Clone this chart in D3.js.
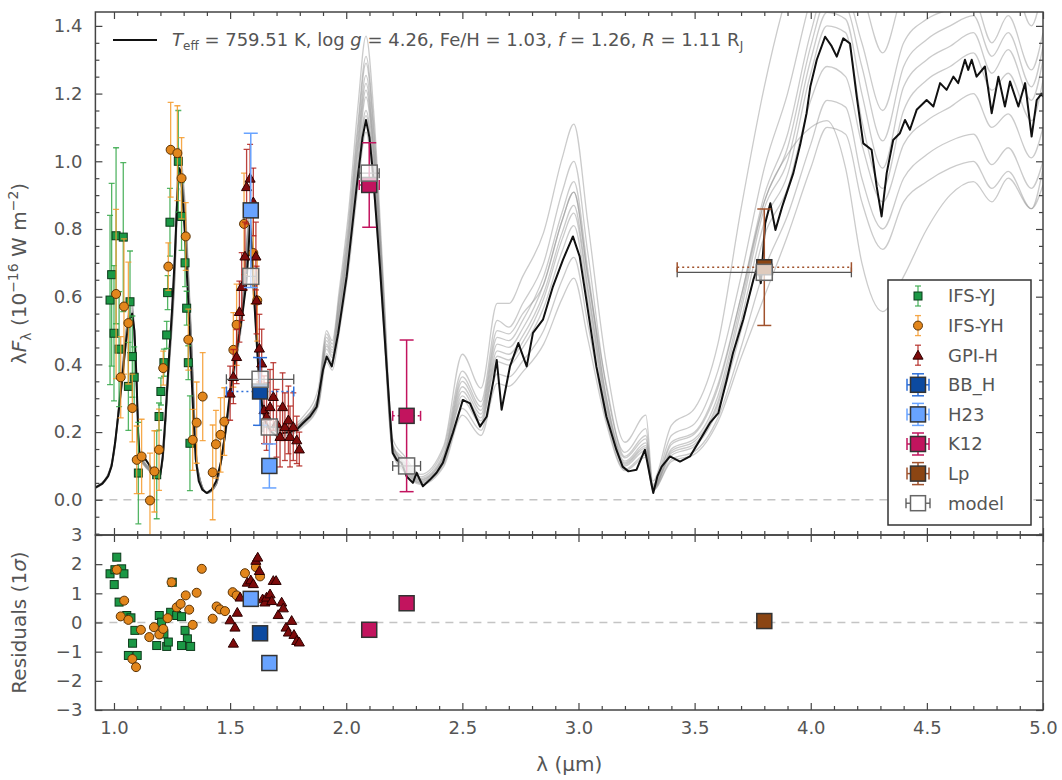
<!DOCTYPE html>
<html>
<head>
<meta charset="utf-8">
<script src="https://cdn.jsdelivr.net/npm/d3@7"></script>
<style>
  body { margin: 0; background: #fff; }
  text { font-family: "DejaVu Sans", Lato, sans-serif; fill: #555; }
</style>
</head>
<body>
<svg width="1062" height="780"></svg>
<script>
// best fit model spectrum (wavelength in micron, lambda*F_lambda in 1e-16 W m-2)
var fitWave = [0.92,0.95,0.975,0.99,1.005,1.02,1.033,1.05,1.065,1.078,
  1.088,1.097,1.104,1.11,1.12,1.135,1.15,1.165,1.18,1.192,
  1.2,1.21,1.222,1.235,1.25,1.262,1.272,1.28,1.288,1.296,
  1.305,1.318,1.33,1.342,1.352,1.365,1.38,1.40,1.42,1.44,
  1.46,1.478,1.495,1.51,1.525,1.54,1.555,1.57,1.578,1.585,
  1.593,1.603,1.615,1.625,1.64,1.655,1.678,1.70,1.728,1.757,
  1.786,1.814,1.844,1.873,1.90,1.916,1.938,1.965,2.002,2.045,
  2.07,2.085,2.10,2.115,2.145,2.174,2.20,2.217,2.238,2.26,
  2.287,2.303,2.33,2.36,2.389,2.416,2.459,2.502,2.533,2.576,
  2.605,2.633,2.648,2.669,2.705,2.741,2.777,2.804,2.847,2.89,
  2.933,2.976,3.005,3.034,3.077,3.12,3.163,3.19,3.215,3.25,
  3.286,3.305,3.322,3.34,3.358,3.394,3.437,3.48,3.523,3.566,
  3.602,3.638,3.665,3.709,3.753,3.772,3.785,3.804,3.826,3.848,
  3.877,3.925,3.955,3.982,3.998,4.026,4.062,4.09,4.112,4.14,
  4.169,4.198,4.226,4.262,4.284,4.305,4.327,4.355,4.384,4.406,
  4.427,4.456,4.499,4.528,4.557,4.585,4.614,4.635,4.664,4.678,
  4.693,4.714,4.75,4.779,4.808,4.836,4.858,4.894,4.923,4.951,
  4.973,4.994,5.0];
var fitFlux = [0.036,0.048,0.07,0.10,0.17,0.26,0.34,0.46,0.53,0.55,
  0.50,0.36,0.20,0.13,0.115,0.12,0.105,0.085,0.068,0.062,
  0.075,0.13,0.25,0.40,0.56,0.72,0.88,0.98,0.97,0.89,
  0.79,0.61,0.43,0.24,0.12,0.055,0.03,0.02,0.03,0.055,
  0.11,0.19,0.29,0.36,0.43,0.49,0.56,0.64,0.72,0.81,
  0.74,0.60,0.46,0.35,0.265,0.227,0.20,0.19,0.197,0.20,
  0.207,0.227,0.246,0.275,0.384,0.423,0.394,0.49,0.66,0.925,
  1.07,1.122,1.07,0.965,0.689,0.394,0.138,0.118,0.109,0.069,
  0.05,0.08,0.04,0.059,0.08,0.109,0.197,0.295,0.285,0.216,
  0.246,0.35,0.413,0.266,0.394,0.463,0.394,0.493,0.532,0.63,
  0.709,0.778,0.719,0.59,0.394,0.246,0.148,0.098,0.084,0.089,
  0.148,0.08,0.02,0.07,0.098,0.128,0.113,0.128,0.177,0.227,
  0.256,0.354,0.433,0.532,0.65,0.69,0.64,0.817,0.876,0.797,
  0.866,0.965,1.05,1.142,1.22,1.30,1.368,1.34,1.309,1.363,
  1.348,1.191,1.053,1.034,0.925,0.837,0.965,1.063,1.083,1.122,
  1.093,1.152,1.181,1.162,1.231,1.211,1.25,1.231,1.30,1.27,
  1.30,1.25,1.28,1.142,1.25,1.162,1.236,1.162,1.231,1.073,
  1.181,1.20,1.19];

// other models of the posterior sample, on a coarser grid
var gridWave = [0.92,0.97,1.00,1.03,1.055,1.078,1.095,1.11,1.15,1.19,1.21,1.235,
  1.26,1.28,1.305,1.33,1.36,1.40,1.44,1.48,1.52,1.555,1.585,1.61,
  1.635,1.67,1.74,1.82,1.88,1.915,1.94,1.97,2.01,2.05,2.085,2.12,
  2.16,2.20,2.25,2.32,2.42,2.50,2.58,2.65,2.70,2.76,2.85,2.93,
  2.98,3.04,3.12,3.20,3.29,3.32,3.40,3.50,3.60,3.70,3.80,3.90,
  4.00,4.07,4.15,4.22,4.31,4.40,4.50,4.60,4.70,4.78,4.85,4.95,5.00];
var sampleFlux = [
  [0.039,0.070,0.150,0.350,0.520,0.590,0.410,0.140,0.096,0.070,0.130,0.410,
   0.700,1.040,0.890,0.540,0.096,0.021,0.048,0.210,0.430,0.610,0.860,0.580,
   0.310,0.225,0.214,0.250,0.330,0.500,0.470,0.620,0.850,1.160,1.370,1.130,
   0.650,0.180,0.130,0.075,0.160,0.430,0.330,0.580,0.580,0.660,0.790,1.010,
   1.110,0.820,0.400,0.170,0.250,0.055,0.220,0.270,0.460,0.860,1.220,1.500,
   1.700,1.850,1.850,1.700,1.450,1.700,1.750,1.800,1.820,1.660,1.780,1.580,1.720],
  [0.038,0.068,0.147,0.347,0.515,0.578,0.400,0.137,0.095,0.068,0.126,0.400,
   0.680,1.020,0.870,0.525,0.095,0.021,0.047,0.210,0.420,0.600,0.840,0.567,
   0.305,0.220,0.210,0.240,0.310,0.480,0.450,0.590,0.800,1.090,1.290,1.070,
   0.610,0.160,0.120,0.068,0.150,0.380,0.290,0.530,0.510,0.580,0.700,0.910,
   1.000,0.730,0.330,0.140,0.210,0.045,0.190,0.225,0.380,0.660,0.980,1.200,
   1.480,1.620,1.600,1.500,1.320,1.500,1.550,1.600,1.620,1.480,1.580,1.400,1.520],
  [0.037,0.067,0.144,0.340,0.505,0.567,0.390,0.134,0.093,0.067,0.124,0.390,
   0.670,1.000,0.855,0.515,0.093,0.021,0.046,0.206,0.410,0.587,0.824,0.556,
   0.300,0.216,0.206,0.237,0.300,0.460,0.435,0.560,0.770,1.045,1.230,1.020,
   0.580,0.154,0.108,0.060,0.130,0.350,0.264,0.480,0.470,0.530,0.660,0.850,
   0.940,0.680,0.300,0.124,0.180,0.039,0.163,0.195,0.330,0.600,0.900,1.080,
   1.380,1.520,1.500,1.350,1.150,1.350,1.420,1.450,1.480,1.350,1.430,1.270,1.380],
  [0.036,0.066,0.141,0.333,0.495,0.556,0.384,0.131,0.091,0.066,0.121,0.384,
   0.656,0.980,0.838,0.505,0.091,0.020,0.045,0.202,0.404,0.576,0.808,0.545,
   0.293,0.212,0.202,0.232,0.295,0.445,0.420,0.540,0.740,1.000,1.190,0.985,
   0.560,0.148,0.099,0.055,0.121,0.320,0.242,0.440,0.430,0.484,0.610,0.790,
   0.870,0.630,0.285,0.109,0.160,0.035,0.144,0.173,0.290,0.560,0.860,1.000,
   1.300,1.440,1.420,1.200,0.980,1.220,1.300,1.340,1.380,1.260,1.330,1.180,1.300],
  [0.036,0.064,0.139,0.327,0.485,0.545,0.376,0.129,0.089,0.064,0.119,0.376,
   0.644,0.960,0.820,0.495,0.089,0.020,0.045,0.198,0.396,0.564,0.792,0.535,
   0.287,0.208,0.198,0.228,0.288,0.432,0.407,0.525,0.720,0.980,1.150,0.960,
   0.545,0.144,0.090,0.050,0.110,0.296,0.224,0.408,0.398,0.449,0.567,0.735,
   0.810,0.590,0.260,0.100,0.147,0.032,0.131,0.158,0.268,0.500,0.780,0.920,
   1.180,1.280,1.250,1.050,0.880,1.050,1.120,1.160,1.200,1.100,1.140,1.010,1.100],
  [0.035,0.063,0.136,0.320,0.475,0.534,0.369,0.126,0.087,0.063,0.116,0.369,
   0.630,0.940,0.805,0.485,0.087,0.019,0.044,0.194,0.388,0.553,0.776,0.524,
   0.281,0.204,0.194,0.223,0.281,0.425,0.400,0.515,0.710,0.960,1.135,0.940,
   0.535,0.140,0.086,0.048,0.105,0.270,0.205,0.372,0.363,0.410,0.500,0.650,
   0.716,0.520,0.238,0.090,0.133,0.029,0.119,0.143,0.242,0.450,0.680,0.840,
   1.050,1.180,1.160,0.950,0.800,0.950,1.020,1.060,1.080,0.990,1.040,0.920,1.000],
  [0.034,0.062,0.133,0.314,0.465,0.523,0.361,0.124,0.086,0.062,0.114,0.361,
   0.618,0.920,0.790,0.475,0.086,0.019,0.043,0.190,0.380,0.542,0.760,0.513,
   0.276,0.200,0.190,0.219,0.276,0.407,0.383,0.495,0.680,0.920,1.086,0.900,
   0.514,0.136,0.081,0.045,0.099,0.250,0.190,0.344,0.335,0.378,0.460,0.595,
   0.655,0.476,0.225,0.086,0.126,0.027,0.113,0.135,0.230,0.420,0.600,0.780,
   0.980,1.100,1.080,0.880,0.740,0.880,0.940,0.980,1.000,0.920,0.970,0.860,0.930],
  [0.037,0.068,0.146,0.343,0.510,0.572,0.395,0.135,0.094,0.068,0.125,0.395,
   0.676,1.010,0.863,0.520,0.094,0.021,0.047,0.208,0.416,0.593,0.832,0.562,
   0.302,0.218,0.208,0.239,0.305,0.470,0.442,0.571,0.784,1.064,1.254,1.040,
   0.594,0.157,0.113,0.063,0.138,0.363,0.275,0.500,0.490,0.550,0.637,0.826,
   0.909,0.660,0.340,0.128,0.190,0.040,0.170,0.200,0.340,0.600,0.880,1.020,
   1.100,1.120,0.980,0.700,0.556,0.660,0.800,0.900,0.940,0.880,0.950,0.860,0.980],
  [0.037,0.066,0.143,0.337,0.500,0.561,0.388,0.133,0.092,0.066,0.122,0.388,
   0.663,0.990,0.847,0.510,0.092,0.020,0.046,0.204,0.408,0.581,0.816,0.551,
   0.296,0.214,0.204,0.235,0.305,0.490,0.460,0.600,0.820,1.110,1.310,1.090,
   0.620,0.165,0.104,0.058,0.127,0.334,0.253,0.460,0.450,0.506,0.637,0.826,
   0.909,0.660,0.300,0.114,0.168,0.036,0.150,0.180,0.306,0.580,0.880,1.040,
   1.340,1.480,1.460,1.280,1.060,1.280,1.360,1.400,1.430,1.310,1.380,1.220,1.340],
  [0.035,0.064,0.138,0.325,0.483,0.542,0.374,0.128,0.089,0.064,0.118,0.374,
   0.640,0.955,0.818,0.493,0.089,0.020,0.044,0.197,0.394,0.561,0.788,0.532,
   0.286,0.207,0.197,0.227,0.286,0.454,0.427,0.551,0.756,1.026,1.210,1.004,
   0.572,0.151,0.095,0.053,0.116,0.307,0.233,0.424,0.413,0.466,0.594,0.770,
   0.847,0.616,0.275,0.105,0.154,0.033,0.138,0.165,0.281,0.530,0.820,0.960,
   1.260,1.400,1.380,1.120,0.920,1.150,1.240,1.280,1.320,1.210,1.260,1.120,1.240]
];

// spectra: [wavelength, flux, error]
var ifsYJ = [[0.983,0.59,0.25],[0.99,0.665,0.27],[1.0,0.492,0.2],[1.009,0.78,0.26],[1.022,0.445,0.17],
  [1.04,0.776,0.22],[1.062,0.335,0.13],[1.069,0.585,0.15],[1.079,0.423,0.12],[1.087,0.362,0.09],
  [1.105,0.079,0.15],[1.184,0.074,0.13],[1.194,0.246,0.04],[1.202,0.32,0.04],[1.215,0.405,0.04],
  [1.227,0.487,0.04],[1.231,0.612,0.05],[1.241,0.82,0.10],[1.277,1.0,0.15],[1.291,0.837,0.10],
  [1.306,0.70,0.07],[1.313,0.566,0.05],[1.32,0.405,0.05],[1.327,0.167,0.14]];
var ifsYH = [[1.009,0.608,0.25],[1.029,0.362,0.12],[1.043,0.571,0.2],[1.062,0.522,0.18],[1.079,0.271,0.1],
  [1.098,0.118,0.1],[1.119,0.128,0.11],[1.155,-0.002,0.14],[1.174,0.084,0.12],[1.194,0.148,0.12],
  [1.212,0.389,0.05],[1.234,0.689,0.07],[1.244,1.034,0.14],[1.273,1.024,0.14],[1.291,0.95,0.12],
  [1.309,0.778,0.1],[1.32,0.473,0.09],[1.339,0.177,0.09],[1.356,0.228,0.12],[1.382,0.305,0.13],
  [1.425,0.081,0.14],[1.439,0.164,0.1],[1.459,0.192,0.11],[1.475,0.231,0.1],[1.514,0.443,0.11],
  [1.528,0.517,0.12],[1.56,0.815,0.15],[1.60,0.729,0.15],[1.617,0.589,0.12]];
var gpiH = [[1.500,0.315,0.08],[1.514,0.364,0.08],[1.528,0.423,0.08],[1.540,0.556,0.09],[1.550,0.630,0.1],
  [1.564,0.720,0.1],[1.571,0.925,0.11],[1.586,0.950,0.1],[1.600,0.880,0.1],[1.611,0.720,0.1],
  [1.614,0.590,0.1],[1.626,0.448,0.1],[1.636,0.404,0.1],[1.646,0.266,0.1],[1.657,0.246,0.1],
  [1.672,0.275,0.11],[1.686,0.305,0.1],[1.700,0.226,0.1],[1.715,0.187,0.09],[1.726,0.275,0.1],
  [1.736,0.216,0.1],[1.751,0.236,0.1],[1.758,0.187,0.09],[1.772,0.216,0.1],[1.787,0.177,0.07],
  [1.798,0.150,0.05]];

// residuals (data - model) / sigma: [wavelength, residual]
var resYJ = [[0.983,1.67],[1.004,1.81],[1.012,2.24],[1.033,1.84],[1.043,1.67],[1.001,1.30],[1.022,0.70],
  [1.055,0.24],[1.073,0.16],[1.09,-0.27],[1.08,-0.71],[1.062,-1.13],[1.10,-1.13],[1.184,-0.79],
  [1.195,0.24],[1.205,0.01],[1.215,-0.39],[1.227,-0.82],[1.234,-0.67],[1.244,0.35],[1.251,1.38],
  [1.27,0.24],[1.291,0.2],[1.306,-0.27],[1.316,-0.56],[1.291,-0.79],[1.33,-0.82]];
var resYH = [[1.012,1.81],[1.044,0.75],[1.029,0.21],[1.062,0.09],[1.079,-1.25],[1.095,-1.53],[1.116,-0.25],
  [1.152,-0.5],[1.172,-0.16],[1.195,-0.41],[1.212,-0.22],[1.231,0.15],[1.248,1.38],[1.27,0.52],
  [1.287,0.64],[1.309,0.93],[1.324,0.44],[1.339,-0.08],[1.356,1.02],[1.378,1.84],[1.425,0.13],
  [1.442,0.55],[1.456,0.45],[1.478,0.39],[1.511,1.04],[1.528,0.93],[1.564,1.69],[1.611,1.90],[1.629,1.58]];
var resGPI = [[1.5,0.09],[1.514,-0.71],[1.521,-0.16],[1.531,0.35],[1.543,0.87],[1.574,1.38],[1.589,1.46],
  [1.60,1.33],[1.611,2.13],[1.619,2.24],[1.626,1.78],[1.64,0.81],[1.65,0.70],[1.657,0.87],[1.672,0.98],
  [1.679,0.75],[1.686,1.44],[1.698,1.44],[1.707,0.27],[1.722,0.70],[1.729,0.5],[1.741,-0.16],
  [1.751,-0.33],[1.765,0.07],[1.775,-0.41],[1.787,-0.62],[1.798,-0.67]];

// photometry
var photBand  = ['BB_H', 'H23', 'H23', 'K12', 'K12', 'Lp'];
var photWave  = [1.629, 1.589, 1.669, 2.099, 2.26, 3.80];
var photHalf  = [0.145, 0.025, 0.027, 0.043, 0.06, 0.375];
var photFlux  = [0.32, 0.855, 0.10, 0.93, 0.248, 0.687];
var photErr   = [0.10, 0.228, 0.065, 0.125, 0.224, 0.172];
var photModel = [0.356, 0.66, 0.215, 0.965, 0.10, 0.672];
var photRes   = [-0.37, 0.81, -1.39, -0.25, 0.66, 0.05];

var legendLabels = ['IFS-YJ', 'IFS-YH', 'GPI-H', 'BB_H', 'H23', 'K12', 'Lp', 'model'];

var specStyle = {
  'IFS-YJ': {fill: '#1b9845', stroke: '#0c3a1a', bar: '#36a84a', shape: 'square'},
  'IFS-YH': {fill: '#e2861c', stroke: '#5c3406', bar: '#f49a2c', shape: 'circle'},
  'GPI-H':  {fill: '#7e0b0b', stroke: '#2c0000', bar: '#b0221c', shape: 'triangle'}
};
var bandFill = {BB_H: '#0c4aa0', H23: '#68a3ff', K12: '#c2145e', Lp: '#8b4513'};
var bandBar = {BB_H: '#2d6fd9', H23: '#68a3ff', K12: '#c2145e', Lp: '#a0522d'};

var svg = d3.select('svg');
var pLeft = 95.4, pRight = 1043, pTop = 12, pMid = 535, pBottom = 710;

var x = d3.scaleLinear().domain([0.92, 5.0]).range([pLeft, pRight]);
var y = d3.scaleLinear().domain([-0.104, 1.441]).range([pMid, pTop]);
var yr = d3.scaleLinear().domain([-3, 3]).range([pBottom, pMid]);

var defs = svg.append('defs');
defs.append('clipPath').attr('id', 'clipTop').append('rect')
  .attr('x', pLeft).attr('y', pTop).attr('width', pRight - pLeft).attr('height', pMid - pTop);
defs.append('clipPath').attr('id', 'clipBot').append('rect')
  .attr('x', pLeft).attr('y', pMid).attr('width', pRight - pLeft).attr('height', pBottom - pMid);

var upper = svg.append('g').attr('clip-path', 'url(#clipTop)');
var lower = svg.append('g').attr('clip-path', 'url(#clipBot)');

// zero lines
upper.append('line').attr('x1', pLeft).attr('x2', pRight).attr('y1', y(0)).attr('y2', y(0))
  .attr('stroke', '#c4c4c4').attr('stroke-width', 1.5).attr('stroke-dasharray', '8,6');
lower.append('line').attr('x1', pLeft).attr('x2', pRight).attr('y1', yr(0)).attr('y2', yr(0))
  .attr('stroke', '#c4c4c4').attr('stroke-width', 1.5).attr('stroke-dasharray', '8,6');

// sample models
var grayLine = d3.line().x(d => x(d[0])).y(d => y(d[1])).curve(d3.curveMonotoneX);
sampleFlux.forEach(function(fl) {
  upper.append('path')
    .attr('d', grayLine(d3.zip(gridWave, fl)))
    .attr('fill', 'none').attr('stroke', '#8c8c8c').attr('stroke-opacity', 0.45)
    .attr('stroke-width', 1.3);
});

// best fit
var fitLine = d3.line().x(d => x(d[0])).y(d => y(d[1]));
upper.append('path')
  .attr('d', fitLine(d3.zip(fitWave, fitFlux)))
  .attr('fill', 'none').attr('stroke', '#111').attr('stroke-width', 2)
  .attr('stroke-linejoin', 'round');

function marker(g, shape, cx, cy, st, size) {
  if (shape === 'circle') {
    g.append('circle').attr('cx', cx).attr('cy', cy).attr('r', size || 4.5)
      .attr('fill', st.fill).attr('stroke', st.stroke).attr('stroke-width', 1);
  } else if (shape === 'triangle') {
    g.append('path').attr('d', d3.symbol(d3.symbolTriangle, (size || 9) * (size || 9) * 0.55)())
      .attr('transform', 'translate(' + cx + ',' + (cy + 1) + ')')
      .attr('fill', st.fill).attr('stroke', st.stroke).attr('stroke-width', 1);
  } else {
    var s = size || 8;
    g.append('rect').attr('x', cx - s / 2).attr('y', cy - s / 2).attr('width', s).attr('height', s)
      .attr('fill', st.fill).attr('stroke', st.stroke).attr('stroke-width', st.sw || 1)
      .attr('fill-opacity', st.fo == null ? 1 : st.fo);
  }
}

function vbar(g, cx, y0, y1, color, cap, w, op) {
  g.append('line').attr('x1', cx).attr('x2', cx).attr('y1', y0).attr('y2', y1)
    .attr('stroke', color).attr('stroke-width', w).attr('stroke-opacity', op);
  [y0, y1].forEach(function(v) {
    g.append('line').attr('x1', cx - cap).attr('x2', cx + cap).attr('y1', v).attr('y2', v)
      .attr('stroke', color).attr('stroke-width', w).attr('stroke-opacity', op);
  });
}

function hbar(g, x0, x1, cy, color, cap, w, dash) {
  g.append('line').attr('x1', x0).attr('x2', x1).attr('y1', cy).attr('y2', cy)
    .attr('stroke', color).attr('stroke-width', w).attr('stroke-dasharray', dash || null);
  [x0, x1].forEach(function(v) {
    g.append('line').attr('x1', v).attr('x2', v).attr('y1', cy - cap).attr('y2', cy + cap)
      .attr('stroke', color).attr('stroke-width', w);
  });
}

// spectra with error bars
[['IFS-YJ', ifsYJ], ['IFS-YH', ifsYH], ['GPI-H', gpiH]].forEach(function(s) {
  var st = specStyle[s[0]];
  var g = upper.append('g');
  s[1].forEach(function(d) {
    vbar(g, x(d[0]), y(d[1] - d[2]), y(d[1] + d[2]), st.bar, 3, 1.3, 0.85);
  });
  s[1].forEach(function(d) { marker(g, st.shape, x(d[0]), y(d[1]), st); });
});

// photometry: data, filter width, model
photBand.forEach(function(b, i) {
  var g = upper.append('g');
  var cx = x(photWave[i]);
  var x0 = x(photWave[i] - photHalf[i]), x1 = x(photWave[i] + photHalf[i]);
  hbar(g, x0, x1, y(photModel[i]), '#555', 5, 1.3);
  hbar(g, x0, x1, y(photFlux[i]), bandBar[b], 5, 1.5, '2,3');
  vbar(g, cx, y(photFlux[i] - photErr[i]), y(photFlux[i] + photErr[i]), bandBar[b], 7, 1.5, 1);
  marker(g, 'square', cx, y(photFlux[i]), {fill: bandFill[b], stroke: '#333', sw: 1.5}, 15);
  marker(g, 'square', cx, y(photModel[i]), {fill: '#fff', stroke: '#666', sw: 1.5, fo: 0.72}, 16);
});

// residual panel
[['IFS-YJ', resYJ], ['IFS-YH', resYH], ['GPI-H', resGPI]].forEach(function(s) {
  var st = specStyle[s[0]];
  s[1].forEach(function(d) { marker(lower, st.shape, x(d[0]), yr(d[1]), st); });
});
photBand.forEach(function(b, i) {
  marker(lower, 'square', x(photWave[i]), yr(photRes[i]), {fill: bandFill[b], stroke: '#333', sw: 1.5}, 15);
});

// axes
function styleAxis(g) {
  g.select('.domain').remove();
  g.selectAll('.tick line').attr('stroke', '#444').attr('stroke-width', 1.2);
  g.selectAll('text').attr('font-size', 18);
}
var ax = svg.append('g');
var fmt1 = d3.format('.1f');
var yMajor = d3.range(0, 8).map(i => i * 0.2);
var yMinor = d3.range(-2, 29).filter(i => i % 4 !== 0).map(i => i * 0.05);
var xMajor = d3.range(2, 11).map(i => i * 0.5);
var xMinor = d3.range(10, 51).filter(i => i % 5 !== 0).map(i => i / 10);
var rMajor = d3.range(-3, 4);

function addAxis(gen, tx, ty, values, size, fmt, pad) {
  ax.append('g').attr('transform', 'translate(' + tx + ',' + ty + ')')
    .call(gen.tickValues(values).tickSize(size).tickPadding(pad || 3).tickFormat(fmt || ''))
    .call(styleAxis);
}
// upper panel
addAxis(d3.axisLeft(y), pLeft, 0, yMajor, -7, fmt1, 13);
addAxis(d3.axisLeft(y), pLeft, 0, yMinor, -4);
addAxis(d3.axisRight(y), pRight, 0, yMajor, -7);
addAxis(d3.axisRight(y), pRight, 0, yMinor, -4);
addAxis(d3.axisTop(x), 0, pTop, xMajor, -7);
addAxis(d3.axisTop(x), 0, pTop, xMinor, -4);
addAxis(d3.axisBottom(x), 0, pMid, xMajor, -7);
addAxis(d3.axisBottom(x), 0, pMid, xMinor, -4);
// residual panel
addAxis(d3.axisTop(x), 0, pMid, xMajor, -7);
addAxis(d3.axisTop(x), 0, pMid, xMinor, -4);
addAxis(d3.axisBottom(x), 0, pBottom, xMajor, -7, fmt1, 11);
addAxis(d3.axisBottom(x), 0, pBottom, xMinor, -4);
addAxis(d3.axisLeft(yr), pLeft, 0, rMajor, -7, d3.format('d'), 13);
addAxis(d3.axisRight(yr), pRight, 0, rMajor, -7);

// frames
svg.append('rect').attr('x', pLeft).attr('y', pTop).attr('width', pRight - pLeft).attr('height', pMid - pTop)
  .attr('fill', 'none').attr('stroke', '#444').attr('stroke-width', 1.5);
svg.append('rect').attr('x', pLeft).attr('y', pMid).attr('width', pRight - pLeft).attr('height', pBottom - pMid)
  .attr('fill', 'none').attr('stroke', '#444').attr('stroke-width', 1.5);

// axis labels
var yl = svg.append('text').attr('transform', 'translate(26,' + ((pTop + pMid) / 2) + ') rotate(-90)')
  .attr('text-anchor', 'middle').attr('font-size', 20);
yl.append('tspan').text('λ');
yl.append('tspan').attr('font-style', 'italic').text('F');
yl.append('tspan').attr('font-size', 14).attr('dy', 5).text('λ');
yl.append('tspan').attr('dy', -5).text(' (10');
yl.append('tspan').attr('font-size', 14).attr('dy', -8).text('−16');
yl.append('tspan').attr('dy', 8).text(' W m');
yl.append('tspan').attr('font-size', 14).attr('dy', -8).text('−2');
yl.append('tspan').attr('dy', 8).text(')');

var rl = svg.append('text').attr('transform', 'translate(26,' + ((pMid + pBottom) / 2) + ') rotate(-90)')
  .attr('text-anchor', 'middle').attr('font-size', 20);
rl.append('tspan').text('Residuals (1');
rl.append('tspan').attr('font-style', 'italic').text('σ');
rl.append('tspan').text(')');

svg.append('text').attr('x', (pLeft + pRight) / 2).attr('y', 771).attr('text-anchor', 'middle')
  .attr('font-size', 20).text('λ (µm)');

// best-fit legend
svg.append('line').attr('x1', 113).attr('x2', 157).attr('y1', 40).attr('y2', 40)
  .attr('stroke', '#111').attr('stroke-width', 2);
var lt = svg.append('text').attr('x', 172).attr('y', 46).attr('font-size', 18);
lt.append('tspan').attr('font-style', 'italic').text('T');
lt.append('tspan').attr('font-size', 12).attr('dy', 4).text('eff');
lt.append('tspan').attr('dy', -4).text(' = 759.51 K, log ');
lt.append('tspan').attr('font-style', 'italic').text('g');
lt.append('tspan').text(' = 4.26, Fe/H = 1.03, ');
lt.append('tspan').attr('font-style', 'italic').text('f');
lt.append('tspan').text(' = 1.26, ');
lt.append('tspan').attr('font-style', 'italic').text('R');
lt.append('tspan').text(' = 1.11 R');
lt.append('tspan').attr('font-size', 12).attr('dy', 4).text('J');

// data legend
var lg = svg.append('g');
lg.append('rect').attr('x', 888).attr('y', 280).attr('width', 143).attr('height', 245)
  .attr('fill', '#fff').attr('stroke', '#333').attr('stroke-width', 1.5);
legendLabels.forEach(function(name, i) {
  var cy = 296 + i * 29.6, cx = 918;
  if (specStyle[name]) {
    var st = specStyle[name];
    vbar(lg, cx, cy - 10, cy + 10, st.bar, 3, 1.3, 0.85);
    marker(lg, st.shape, cx, cy, st, st.shape === 'square' ? 8 : (st.shape === 'circle' ? 4.5 : 9));
  } else if (bandFill[name]) {
    vbar(lg, cx, cy - 11, cy + 11, bandBar[name], 6, 1.5, 1);
    hbar(lg, cx - 11, cx + 11, cy, bandBar[name], 6, 1.5);
    marker(lg, 'square', cx, cy, {fill: bandFill[name], stroke: '#333', sw: 1.5}, 15);
  } else {
    hbar(lg, cx - 12, cx + 12, cy, '#555', 5, 1.3);
    marker(lg, 'square', cx, cy, {fill: '#fff', stroke: '#666', sw: 1.5}, 15);
  }
  lg.append('text').attr('x', 948).attr('y', cy).attr('dy', '0.36em').attr('font-size', 18).text(name);
});
</script>
</body>
</html>
